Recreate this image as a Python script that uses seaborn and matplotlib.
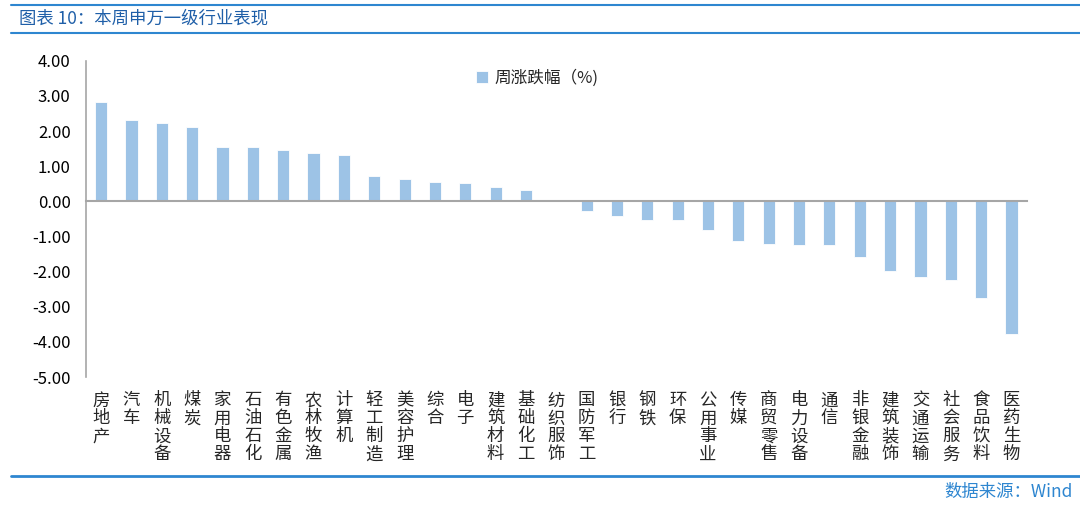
import numpy as np
import pandas as pd
import matplotlib
matplotlib.use('Agg')
import matplotlib.pyplot as plt
import seaborn as sns

# --- data ---
industries = ['房地产', '汽车', '机械设备', '煤炭', '家用电器', '石油石化', '有色金属',
              '农林牧渔', '计算机', '轻工制造', '美容护理', '综合', '电子', '建筑材料',
              '基础化工', '纺织服饰', '国防军工', '银行', '钢铁', '环保', '公用事业',
              '传媒', '商贸零售', '电力设备', '通信', '非银金融', '建筑装饰', '交通运输',
              '社会服务', '食品饮料', '医药生物']
weekly_change = [2.84, 2.33, 2.22, 2.11, 1.56, 1.56, 1.46, 1.38, 1.31, 0.72, 0.65,
                 0.56, 0.53, 0.41, 0.32, 0.02, -0.28, -0.42, -0.52, -0.53, -0.82,
                 -1.13, -1.20, -1.23, -1.23, -1.57, -1.97, -2.15, -2.23, -2.74, -3.77]
y_ticks = [4, 3, 2, 1, 0, -1, -2, -3, -4, -5]
series_name = '周涨跌幅（%)'

df = pd.DataFrame({'industry': industries, 'change': weekly_change})

sns.set_style('white')
plt.rcParams['font.family'] = ['Noto Sans CJK SC', 'DejaVu Sans']
plt.rcParams['axes.unicode_minus'] = False

bar_color = '#9DC3E6'
axis_gray = '#A6A6A6'
blue = '#2E86D0'

fig = plt.figure(figsize=(10.8, 5.11), dpi=100)
ax = fig.add_axes([0.0796, 0.262, 0.871, 0.619])

sns.barplot(data=df, x='industry', y='change', color=bar_color, width=0.4,
            saturation=1, ax=ax, label=series_name, edgecolor='white', linewidth=0.6)

ax.set_ylim(-5, 4)
ax.set_xlim(-0.5, len(industries) - 0.5)
ax.set_yticks(y_ticks)
ax.set_yticklabels([f'{v:.2f}' for v in y_ticks], fontsize=12, color='#000000')
ax.set_xlabel('')
ax.set_ylabel('')

for s in ['top', 'right']:
    ax.spines[s].set_visible(False)
ax.spines['left'].set_color(axis_gray)
ax.spines['left'].set_linewidth(1.2)
ax.spines['bottom'].set_position(('data', 0))
ax.spines['bottom'].set_color(axis_gray)
ax.spines['bottom'].set_linewidth(1.5)

ax.tick_params(axis='y', direction='out', length=5, color=axis_gray, width=1, pad=6)
# category boundary ticks on the zero line, labels drawn at the bottom
ax.set_xticks(np.arange(-0.5, len(industries) + 0.5, 1))
ax.set_xticklabels([])
ax.tick_params(axis='x', direction='out', length=5, color=axis_gray, width=1)

for i, name in enumerate(industries):
    ax.text(i, -0.045, '\n'.join(name), transform=ax.get_xaxis_transform(),
            ha='center', va='top', fontsize=12.5, linespacing=1.0)

leg = ax.legend(loc='upper center', bbox_to_anchor=(0.48, 1.02), frameon=False,
                fontsize=12, handlelength=0.7, handleheight=0.7, handletextpad=0.4)

# header / footer decorations
fig.add_artist(plt.Line2D([0.01, 1.0], [0.991, 0.991], color=blue, lw=1.5))
fig.add_artist(plt.Line2D([0.01, 1.0], [0.935, 0.935], color=blue, lw=1.5))
fig.text(0.018, 0.963, '图表 10：本周申万一级行业表现', fontsize=12.5, color='#1F5FA8',
         style='italic', va='center', ha='left')
fig.add_artist(plt.Line2D([0.01, 1.0], [0.068, 0.068], color=blue, lw=2))
fig.text(0.993, 0.037, '数据来源：Wind', fontsize=12.5, color='#2E86D0',
         va='center', ha='right')

fig.savefig('out.png', dpi=100)
